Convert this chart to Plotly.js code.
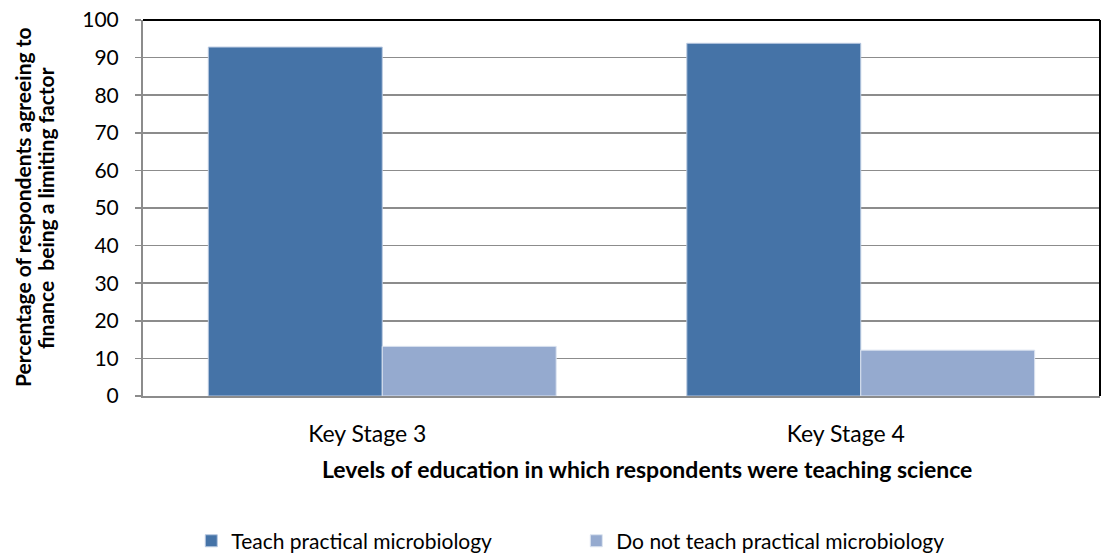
<!DOCTYPE html>
<html>
<head>
<meta charset="utf-8">
<script src="https://cdn.plot.ly/plotly-3.0.1.min.js"></script>
<style>html,body{margin:0;padding:0;background:#fff;}#chart{width:1104px;height:559px;}</style>
</head>
<body>
<div id="chart"></div>
<script>
const categories = ["Key Stage 3", "Key Stage 4"];
const seriesNames = ["Teach practical microbiology", "Do not teach practical microbiology"];
const teachValues = [92.8, 93.8];
const notTeachValues = [13.2, 12.2];
const yTickValues = [0, 10, 20, 30, 40, 50, 60, 70, 80, 90, 100];
const yTitleLines = ["Percentage of respondents agreeing to", "finance  being a limiting factor"];
const xTitle = "Levels of education in which respondents were teaching science";

const FONT = "Lato, 'Open Sans', sans-serif";

const traces = [
  {
    type: "bar", name: seriesNames[0], x: categories, y: teachValues,
    marker: {color: "#4573A7", line: {color: "#B9C9E0", width: 1}},
    hoverinfo: "skip"
  },
  {
    type: "bar", name: seriesNames[1], x: categories, y: notTeachValues,
    marker: {color: "#95AACF", line: {color: "#DCE4F0", width: 1}},
    hoverinfo: "skip"
  }
];

const layout = {
  width: 1104, height: 559,
  margin: {l: 143, r: 4, t: 20, b: 162.5},
  paper_bgcolor: "#fff", plot_bgcolor: "#fff",
  font: {family: FONT, color: "#000", size: 22},
  barmode: "group", bargap: 0.273, bargroupgap: 0,
  showlegend: true,
  legend: {
    orientation: "h", xref: "container", yref: "container",
    x: 0.522, xanchor: "center", y: 0.032, yanchor: "middle",
    font: {family: FONT, size: 21, color: "#000"},
    entrywidth: 340, itemwidth: 30
  },
  xaxis: {
    type: "category", showgrid: false, zeroline: false,
    showline: true, linecolor: "#8C8C8C", linewidth: 2,
    ticks: "", ticklabelstandoff: 16, ticklabelshift: -15,
    tickfont: {family: FONT, size: 23}
  },
  yaxis: {
    range: [0, 100], tickvals: yTickValues, ticktext: yTickValues.map(String),
    showgrid: true, gridcolor: "#8C8C8C", gridwidth: 1.5,
    zeroline: false, showline: true, linecolor: "#8C8C8C", linewidth: 2,
    ticks: "outside", ticklen: 6, tickcolor: "#8C8C8C", tickwidth: 1.5,
    ticklabelstandoff: 12,
    tickfont: {family: FONT, size: 21}
  },
  annotations: [
    {xref: "paper", yref: "paper", x: (22 - 143) / 957, y: 0.5, xanchor: "center", yanchor: "middle",
     textangle: -90, showarrow: false, text: "<b>" + yTitleLines[0] + "</b>", font: {family: FONT, size: 21}},
    {xref: "paper", yref: "paper", x: (45 - 143) / 957, y: 0.5, xanchor: "center", yanchor: "middle",
     textangle: -90, showarrow: false, text: "<b>" + yTitleLines[1] + "</b>", font: {family: FONT, size: 21}},
    {xref: "paper", yref: "paper", x: (647 - 143) / 957, y: -(470 - 396.5) / 376.5, xanchor: "center", yanchor: "middle",
     showarrow: false, text: "<b>" + xTitle + "</b>", font: {family: FONT, size: 23}}
  ],
  shapes: [
    {type: "line", xref: "paper", yref: "paper", x0: 0, x1: 1, y0: 1, y1: 1, line: {color: "#000", width: 2}},
    {type: "line", xref: "paper", yref: "paper", x0: 1, x1: 1, y0: 0, y1: 1, line: {color: "#000", width: 2}}
  ]
};

Plotly.newPlot("chart", traces, layout, {displayModeBar: false, staticPlot: true});
</script>
</body>
</html>
